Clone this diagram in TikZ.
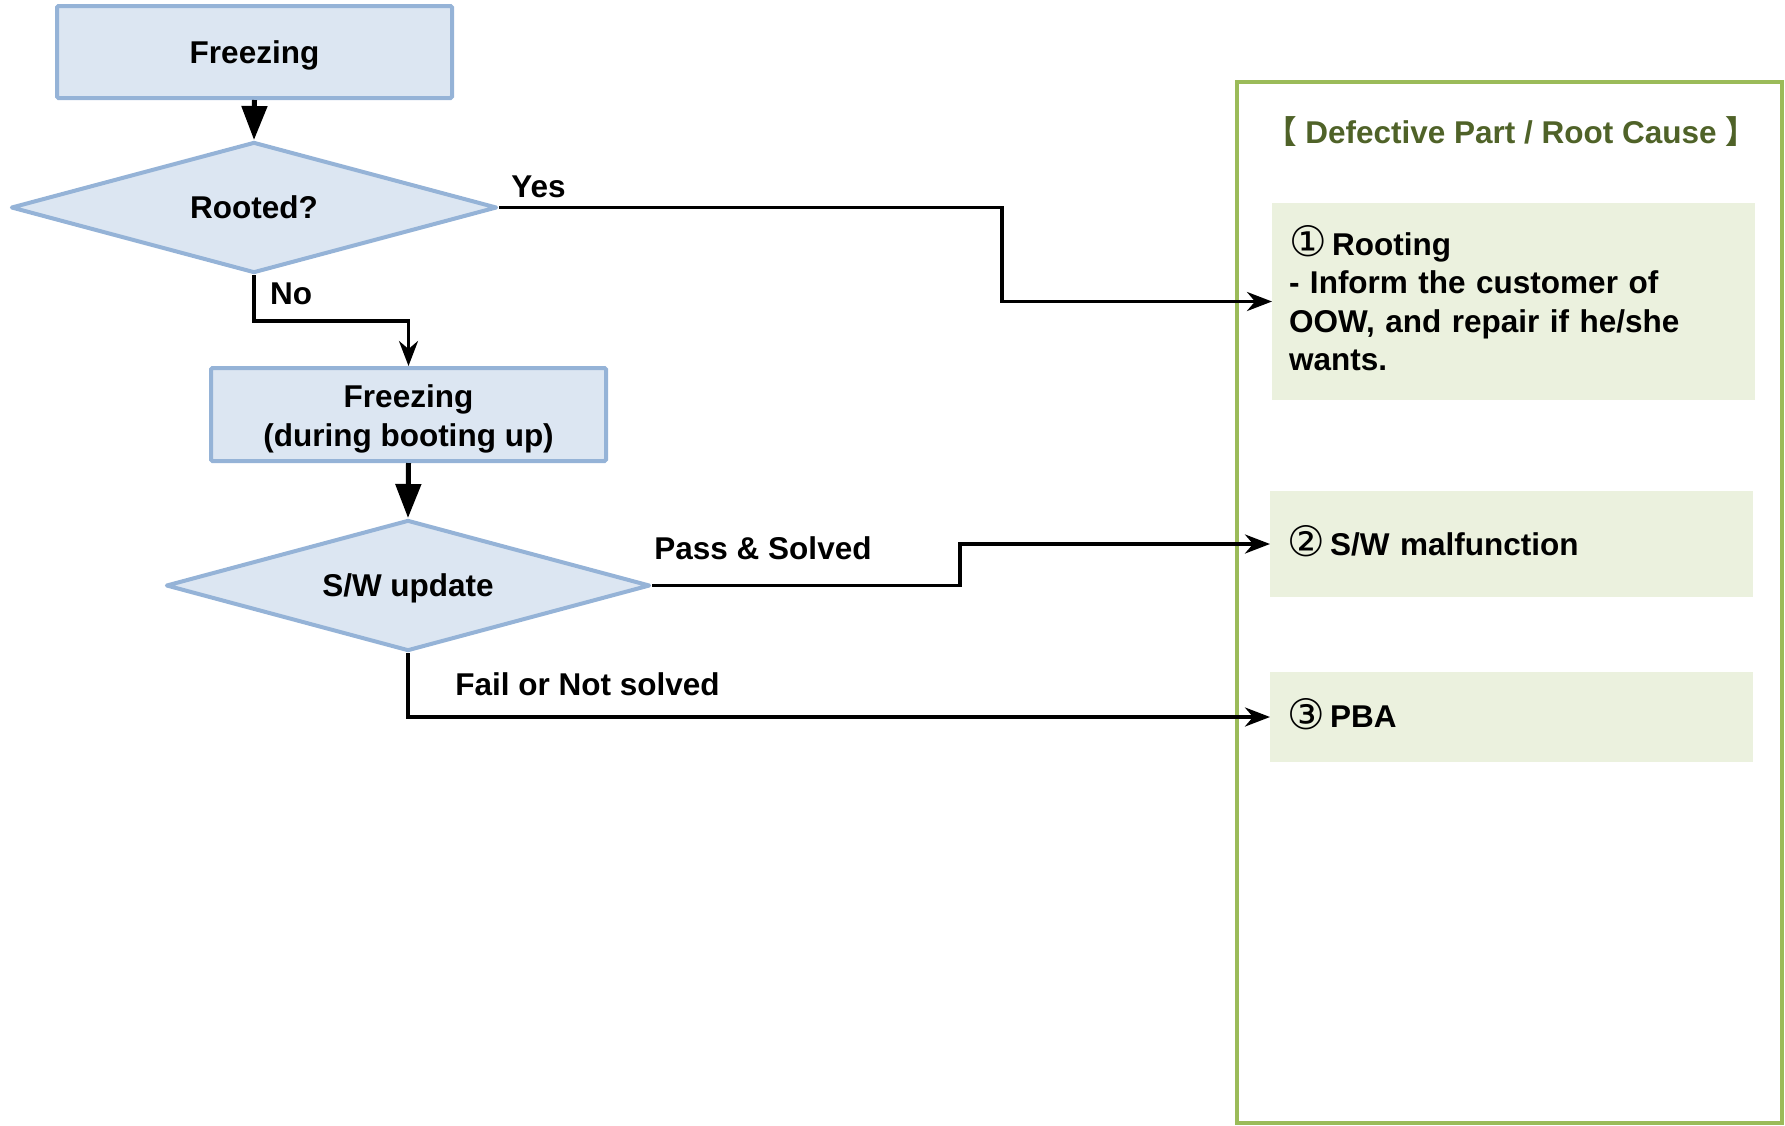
\documentclass[tikz,border=0pt]{standalone}
\usepackage{fontspec}
\setmainfont{Liberation Sans}
\newfontfamily\symfont{DejaVu Sans}
\newfontfamily\cjkfont{Noto Sans CJK SC}
\usetikzlibrary{shapes.geometric,arrows.meta}

\definecolor{flowline}{HTML}{95B3D7}
\definecolor{flowfill}{HTML}{DCE6F2}
\definecolor{causeframe}{HTML}{9BBB59}
\definecolor{causefill}{HTML}{EBF1DE}
\definecolor{causetitle}{HTML}{4F6228}

% circled item numbers, set a little larger than the text
\newcommand{\itemno}[1]{\smash{\symfont\mdseries\fontsize{42}{38.5}\selectfont\raisebox{-1.5pt}{#1}}\hspace{5.5pt}}

\tikzset{
  txt/.style={font=\fontsize{31.5}{38.5}\selectfont\bfseries},
  stepbox/.style={txt, draw=flowline, fill=flowfill, line width=4pt,
    rounded corners=1.5pt, minimum width=395pt, inner sep=0pt, align=center},
  decision/.style={txt, diamond, aspect=3.7, draw=flowline, fill=flowfill,
    line width=4pt, line join=round, inner sep=0pt},
  causebox/.style={txt, fill=causefill, text width=449pt, inner xsep=17pt,
    inner ysep=0pt, outer sep=0pt, align=left},
  conn/.style={line width=3.5pt, -{Stealth[length=25pt,width=19pt,inset=8pt]}},
  mainflow/.style={line width=5pt, -{Triangle[length=34pt,width=25pt]}},
  lbl/.style={txt, anchor=base, inner sep=0pt}
}

\begin{document}
\begin{tikzpicture}[x=1pt,y=-1pt]
  \useasboundingbox (0,0) rectangle (1785,1125);

  % right-hand panel
  \node[draw=causeframe, line width=4pt, minimum width=545pt,
        minimum height=1041pt, inner sep=0pt] (frame) at (1509.5,602.5) {};
  \node[lbl, text=causetitle] (title) at (1511,143)
    {{\cjkfont 【} Defective Part / Root Cause {\cjkfont 】}};

  \node[causebox, minimum height=197pt] (c1) at (1513.5,301.5)
    {\itemno{①}Rooting\\- Inform the customer of\\OOW, and repair if he/she\\wants.};
  \node[causebox, minimum height=106pt] (c2) at (1511.5,544)
    {\itemno{②}S/W malfunction};
  \node[causebox, minimum height=90pt] (c3) at (1511.5,717)
    {\itemno{③}PBA};

  % flow chart
  \node[stepbox, minimum height=92pt, text height=22.5pt, text depth=0pt]
    (f1) at (254.5,52) {Freezing};
  \node[decision, minimum width=486pt, minimum height=131pt,
        text height=22.5pt, text depth=0pt] (r1) at (254,207.5) {Rooted?};
  \node[stepbox, minimum height=93pt, text height=63pt, text depth=0pt]
    (f2) at (408.5,414.5) {Freezing\\(during booting up)};
  \node[decision, minimum width=484pt, minimum height=131pt,
        text height=22.5pt, text depth=0pt] (s1) at (408,585.5) {S/W update};

  % bend points of the connectors
  \coordinate (yesbend) at (1002,0);
  \coordinate (nobend) at (0,321);
  \coordinate (passbend) at (960,0);

  \draw[mainflow] (f1.south) -- (r1.north);
  \draw[mainflow] (f2.south) -- (s1.north);

  \draw[conn] (r1.east) -- (r1.east -| yesbend) |- (c1.west);
  \draw[conn] (r1.south) |- (f2.north |- nobend) -- (f2.north);
  \draw[conn] (s1.east) -- (s1.east -| passbend) |- (c2.west);
  \draw[conn] (s1.south) |- (c3.west);

  % connector labels
  \node[lbl] (yes) at (538.5,197) {Yes};
  \node[lbl] (no) at (291,304) {No};
  \node[lbl] (pass) at (763,559) {Pass \& Solved};
  \node[lbl] (fail) at (587.5,695.5) {Fail or Not solved};
\end{tikzpicture}
\end{document}
